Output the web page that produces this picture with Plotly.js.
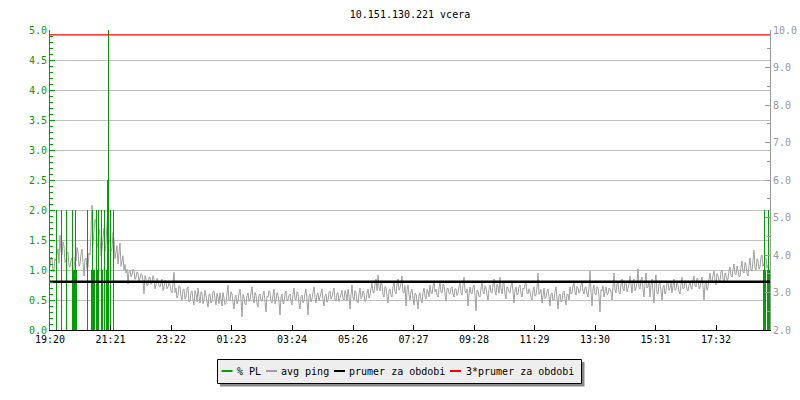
<!DOCTYPE html>
<html>
<head>
<meta charset="utf-8">
<script src="https://cdn.plot.ly/plotly-3.0.1.min.js"></script>
<style>html,body{margin:0;padding:0;background:#fff;}#chart{width:800px;height:400px;}</style>
</head>
<body>
<div id="chart"></div>
<script>
// ---- data ----
const chartTitle = "10.151.130.221 vcera";
const startLabel = "19:20";
const xTickLabels = ["19:20","21:21","23:22","01:23","03:24","05:26","07:27","09:28","11:29","13:30","15:31","17:32"];
const seriesNames = ["% PL", "avg ping", "prumer za obdobi", "3*prumer za obdobi"];
const seriesColors = ["#00a000", "#a0a0a0", "#000000", "#ff0000"];

// avg ping [ms], one sample every 2 minutes from 19:20
const pingStepMin = 2;
const pingMs = [
3.68,3.95,3.92,3.55,3.6,3.9,3.84,4.02,4.16,3.78,4.53,4.1,4.0,4.35,4.24,3.8,3.84,4.05,4.08,3.7,
3.68,3.85,3.92,3.58,3.6,3.95,3.84,4.2,4.08,3.7,3.76,4.02,4.16,3.8,3.44,3.88,3.92,3.62,3.68,4.05,
4.0,4.6,5.33,4.3,4.56,4.95,4.88,4.2,4.32,4.7,4.48,3.98,4.16,4.55,4.72,4.1,4.32,4.85,5.1,4.35,
4.4,4.1,4.16,4.6,4.4,3.9,4.08,4.25,3.76,4.05,4.32,3.7,3.84,3.98,3.6,3.75,3.52,3.62,3.23,3.55,
3.6,3.42,3.47,3.62,3.57,3.35,3.41,3.55,3.52,3.3,3.36,3.5,3.47,3.32,2.96,3.45,3.36,3.18,3.2,3.4,
3.41,3.22,3.28,3.45,3.36,3.1,3.2,3.38,3.33,3.18,3.15,3.3,3.36,3.05,3.12,3.32,3.28,3.1,3.15,3.26,
3.2,3.05,2.99,3.25,3.54,3.0,3.12,2.85,2.93,3.18,3.15,2.9,2.8,3.06,3.09,2.82,2.88,3.12,3.15,2.75,
2.77,3.0,3.04,2.8,2.67,3.05,2.96,2.75,3.12,2.9,2.72,3.02,2.99,2.7,2.8,3.06,2.93,2.76,2.61,2.95,
2.96,2.72,2.77,3.02,3.04,2.8,2.67,2.98,2.88,2.7,2.99,2.82,2.64,3.0,2.88,2.68,2.72,2.96,3.2,2.78,
2.8,3.02,2.96,2.74,2.56,2.9,2.93,2.7,2.77,2.98,3.09,2.82,2.35,2.95,2.88,2.7,2.67,2.92,2.99,2.76,
2.8,2.98,3.15,2.85,2.72,3.0,2.93,2.7,2.61,2.92,2.96,2.78,2.77,2.95,3.04,2.74,2.48,2.9,2.88,3.05,
2.99,2.76,2.72,2.94,3.09,2.7,2.8,3.0,2.93,2.75,2.4,2.88,2.96,2.7,2.72,2.97,3.04,2.78,2.8,2.92,
2.96,2.74,2.67,2.95,3.12,2.82,2.8,3.02,2.99,2.7,2.56,2.9,2.93,2.72,2.77,2.98,3.09,2.8,2.4,2.92,
2.96,2.75,2.83,3.0,3.15,2.86,2.72,2.95,2.99,2.78,2.88,3.04,3.09,2.8,2.64,2.92,2.96,2.74,2.8,3.0,
3.04,2.82,2.88,3.02,3.12,2.8,2.77,2.98,2.99,2.76,2.88,3.0,3.06,2.84,2.8,3.05,2.96,2.78,3.09,2.9,
2.56,2.95,3.2,2.86,2.8,3.05,2.99,2.78,2.72,2.96,3.12,2.84,2.88,3.04,2.96,2.76,2.8,2.98,3.09,2.85,
2.93,3.1,3.25,3.0,2.99,3.22,3.36,3.05,3.47,3.15,3.04,3.28,3.2,2.95,2.88,3.16,3.12,2.9,2.72,3.06,
3.09,2.92,2.88,3.15,3.28,3.02,2.96,3.2,3.36,3.06,3.12,3.25,3.44,3.0,2.99,3.18,2.64,3.05,3.2,2.94,
2.8,3.02,3.09,2.85,2.67,2.98,2.96,2.78,2.56,2.92,2.99,2.82,2.72,3.0,3.12,2.9,2.83,3.08,3.04,2.88,
3.2,3.0,2.96,3.18,3.31,3.02,3.09,2.94,2.88,3.14,3.25,3.0,2.99,3.22,3.2,2.95,2.77,3.1,3.12,2.98,
2.96,3.12,3.15,2.95,2.88,3.1,3.09,2.92,2.99,3.16,3.25,3.0,2.93,3.2,3.41,3.05,2.99,3.1,2.64,2.96,
3.15,2.98,2.96,3.14,3.2,2.92,2.51,3.06,3.04,2.9,2.88,3.12,3.28,3.02,2.96,3.18,3.12,2.94,2.8,3.08,
3.2,3.0,2.99,3.2,3.36,3.05,2.93,3.22,3.15,2.98,3.41,3.1,2.96,3.24,3.25,2.95,2.83,3.15,3.12,3.02,
2.99,3.18,3.28,3.02,2.72,3.08,3.15,2.94,2.96,3.16,3.2,2.98,2.88,3.12,3.09,3.22,3.28,3.0,2.96,3.1,
3.04,2.86,2.8,3.06,3.15,2.9,2.93,3.12,3.52,2.95,2.99,3.08,2.72,2.92,3.12,2.84,2.88,3.04,3.09,2.9,
2.64,2.94,2.99,2.78,2.8,3.02,3.15,2.85,2.56,2.92,2.96,2.75,2.77,3.0,3.04,2.82,2.67,2.95,2.96,2.8,
3.15,2.96,2.99,3.18,3.25,3.02,2.93,3.16,3.12,2.98,3.04,3.2,3.28,3.04,2.96,3.14,3.15,2.96,2.88,3.1,
3.57,3.0,2.64,3.1,3.2,2.96,2.93,3.16,3.12,2.9,2.48,3.08,3.04,3.18,2.88,3.02,3.15,2.94,2.96,3.12,
3.09,3.02,2.8,3.14,3.52,3.06,2.99,3.24,3.25,3.0,2.96,3.2,3.36,3.1,3.04,3.3,3.28,3.02,3.12,3.22,
3.44,3.1,2.99,3.3,3.36,3.05,3.12,3.26,3.63,3.14,3.09,3.34,3.41,3.08,2.88,3.25,3.52,3.12,3.15,3.3,
2.88,3.2,3.36,3.0,2.72,3.3,3.47,2.98,2.96,3.22,3.25,3.05,2.8,3.14,3.2,2.96,3.04,3.24,3.28,3.06,
3.12,3.26,2.99,3.18,3.36,3.06,3.09,3.28,3.2,3.02,2.96,3.22,3.41,3.1,3.12,3.3,3.25,3.08,3.04,3.2,
3.31,3.12,3.09,3.32,3.44,3.18,3.15,3.38,3.36,3.1,3.12,3.3,3.41,3.16,2.8,3.22,3.28,3.06,3.15,3.34,
3.52,3.3,3.28,3.46,3.57,3.34,3.2,3.5,3.44,3.28,3.31,3.55,3.6,3.36,3.25,3.52,3.47,3.32,3.36,3.58,
3.68,3.45,3.41,3.62,3.76,3.5,3.47,3.7,3.6,3.42,3.44,3.68,3.84,3.55,3.52,3.8,3.73,3.5,3.44,3.72,
3.92,3.6,3.57,3.85,4.13,3.66,3.6,3.9,3.84,3.62,3.68,3.95,4.0,3.7,3.76,3.88,3.92,3.65,3.73,3.8
];

// packet loss [%], minutes after 19:20
const plMinutes = [13,23,33,45,47,49,51,53,75,83,85,87,89,93,95,97,103,105,109,113,115,117,121,127,1427,1429,1431,1435,1437,1439];
const plValues  = [2.0,2.0,2.0,2.0,1.0,1.0,2.0,1.0,2.0,1.0,2.0,1.0,1.0,2.0,1.0,2.0,2.0,1.0,2.0,1.0,2.5,5.0,2.0,2.0,1.0,2.0,1.0,1.0,2.0,1.0];

const avgPeriodMs = 3.29;
const periodMinutes = 1440;

// ---- build ----
function toMin(lbl){
  const [h,m] = lbl.split(":").map(Number);
  const [h0,m0] = startLabel.split(":").map(Number);
  let d = h*60+m - (h0*60+m0);
  if (d < 0) d += 1440;
  return d;
}
const xTickVals = xTickLabels.map(toMin);
const pingMinutes = pingMs.map((_, i) => i * pingStepMin);

const FONT = "DejaVu Sans Mono, monospace";
const GREEN = seriesColors[0], GREY = "#999999";

const traces = [
  {type:"scatter", mode:"lines", name:seriesNames[1], x:pingMinutes, y:pingMs, xaxis:"x", yaxis:"y",
   line:{color:seriesColors[1], width:1}, hoverinfo:"skip"},
  {type:"bar", name:seriesNames[0], x:plMinutes, y:plValues, width:2, xaxis:"x", yaxis:"y2",
   marker:{color:GREEN, line:{width:0}}, hoverinfo:"skip"},
  {type:"scatter", mode:"lines", name:seriesNames[2], x:[0, periodMinutes], y:[avgPeriodMs, avgPeriodMs], xaxis:"x", yaxis:"y3",
   line:{color:seriesColors[2], width:2.5}, hoverinfo:"skip"},
  {type:"scatter", mode:"lines", name:seriesNames[3], x:[0, periodMinutes], y:[3*avgPeriodMs, 3*avgPeriodMs], xaxis:"x", yaxis:"y3",
   line:{color:seriesColors[3], width:1.2}, hoverinfo:"skip"}
];

// plot area geometry (px)
const L = 50, R = 30, T = 30, B = 70, W = 800, H = 400;
const pw = W - L - R, ph = H - T - B;
const px = v => (v - L) / pw;
const py = v => (H - B - v) / ph;

const shapes = [
  {type:"rect", xref:"paper", yref:"paper", x0:px(220), x1:px(584.5), y0:py(362), y1:py(386.5), fillcolor:"#888888", line:{width:0}, layer:"above"},
  {type:"rect", xref:"paper", yref:"paper", x0:px(217.5), x1:px(581.5), y0:py(359.5), y1:py(383.5), fillcolor:"#eeeeee", line:{color:"#000000", width:1}, layer:"above"}
];
const annotations = [];
const sampleX = [221.5, 266, 334, 450];
const textX = [235, 278.5, 346.5, 463.5];
const legendY = py(371);
seriesNames.forEach((n, i) => {
  shapes.push({type:"line", xref:"paper", yref:"paper", x0:px(sampleX[i]), x1:px(sampleX[i]+11), y0:legendY, y1:legendY,
    line:{color:seriesColors[i], width:2}, layer:"above"});
  annotations.push({xref:"paper", yref:"paper", x:px(textX[i]), y:legendY, xanchor:"left", yanchor:"middle",
    text:n, showarrow:false, font:{family:FONT, size:10, color:"#000"}});
});

const layout = {
  width:W, height:H,
  margin:{l:L, r:R, t:T, b:B, pad:0},
  paper_bgcolor:"#ffffff", plot_bgcolor:"#ffffff",
  showlegend:false,
  font:{family:FONT, size:10, color:"#000"},
  title:{text:chartTitle, x:0.5, xref:"paper", y:1-14/H, yref:"container", yanchor:"middle",
         font:{family:FONT, size:10, color:"#000"}},
  xaxis:{range:[0, periodMinutes], tickmode:"array", tickvals:xTickVals, ticktext:xTickLabels,
         ticks:"inside", ticklen:5, tickcolor:"#000", tickwidth:1,
         showline:true, linecolor:"#000", linewidth:1, showgrid:false, zeroline:false,
         tickfont:{family:FONT, size:10, color:"#000"}, fixedrange:true},
  yaxis:{range:[2, 10], side:"right", dtick:1, tick0:0, tickformat:".1f",
         ticks:"inside", ticklen:5, tickcolor:GREY, showline:true, linecolor:GREY, linewidth:1,
         showgrid:false, zeroline:false, tickfont:{family:FONT, size:10, color:GREY},
         minor:{dtick:0.5, ticks:"inside", ticklen:3, tickcolor:GREY, showgrid:false}, fixedrange:true},
  yaxis2:{range:[0, 5], side:"left", overlaying:"y", dtick:0.5, tick0:0, tickformat:".1f",
         ticks:"inside", ticklen:5, tickcolor:GREEN, showline:true, linecolor:GREEN, linewidth:1,
         showgrid:true, gridcolor:"#c0c0c0", gridwidth:1, zeroline:false,
         tickfont:{family:FONT, size:10, color:GREEN},
         minor:{dtick:0.1, ticks:"inside", ticklen:3, tickcolor:GREEN, showgrid:false}, fixedrange:true},
  yaxis3:{matches:"y", overlaying:"y", side:"right", visible:false, showgrid:false, zeroline:false, fixedrange:true},
  shapes:shapes,
  annotations:annotations
};

Plotly.newPlot("chart", traces, layout, {displayModeBar:false, staticPlot:true});
</script>
</body>
</html>
